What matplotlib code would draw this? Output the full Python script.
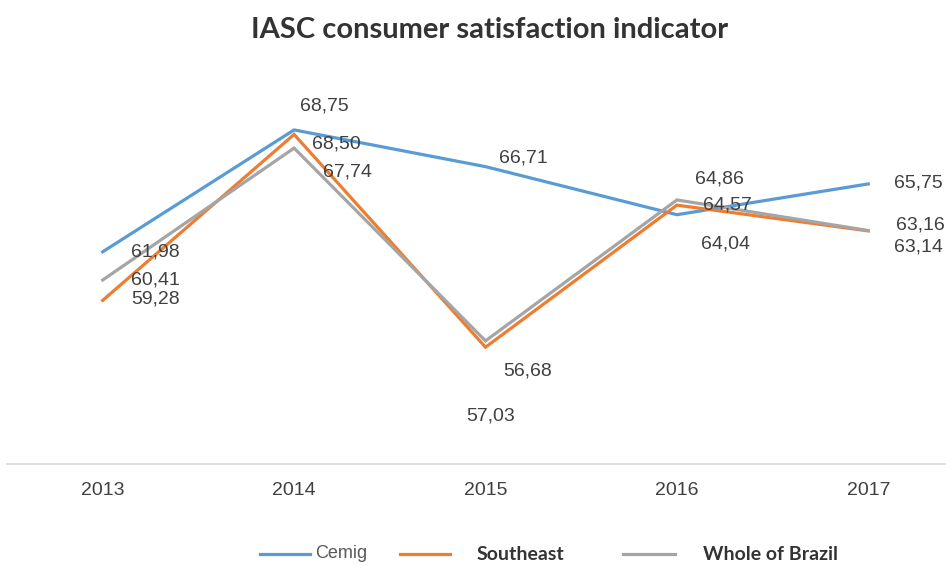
import matplotlib
matplotlib.use("Agg")
import matplotlib.pyplot as plt
from matplotlib.lines import Line2D

years = [2013, 2014, 2015, 2016, 2017]
cemig = [61.98, 68.75, 66.71, 64.04, 65.75]
southeast = [59.28, 68.50, 56.68, 64.57, 63.14]
brazil = [60.41, 67.74, 57.03, 64.86, 63.16]

series_names = ["Cemig", "Southeast", "Whole of Brazil"]
colors = ["#5B9BD5", "#ED7D31", "#A5A5A5"]

# label offsets (pixels) the original uses, per series per year
offsets = {
    "Cemig": [(53, 0), (30, 24), (38, 9), (49, -29), (50, 1)],
    "Southeast": [(53, 1), (42, -10), (42, -24), (51, 0), (50, -16)],
    "Whole of Brazil": [(53, 0), (53, -24), (5, -75), (43, 21), (52, 6)],
}

fig = plt.figure(figsize=(9.46, 5.65), dpi=100)
ax = fig.add_axes([7 / 946, 101 / 565, 957 / 946, 369 / 565])

for name, vals, c in zip(series_names, [cemig, southeast, brazil], colors):
    ax.plot(years, vals, color=c, lw=2.3, solid_joinstyle="miter", zorder=3)

for name, vals in zip(series_names, [cemig, southeast, brazil]):
    for x, v, (dx, dy) in zip(years, vals, offsets[name]):
        ax.annotate(f"{v:.2f}".replace(".", ","), (x, v),
                    xytext=(dx * 0.72, dy * 0.72), textcoords="offset points",
                    ha="center", va="center", fontsize=14,
                    family="Liberation Sans", color="#404040", zorder=4)

ax.set_xlim(2012.5, 2017.5)
ax.set_ylim(50.19, 50.19 + 369 / 18)
ax.set_xticks(years)
ax.set_xticklabels([str(y) for y in years], family="Liberation Sans",
                   fontsize=14, color="#404040")
ax.set_yticks([])
ax.tick_params(axis="x", length=0, pad=13)
for s in ["top", "left", "right"]:
    ax.spines[s].set_visible(False)
ax.spines["bottom"].set_color("#D9D9D9")
ax.spines["bottom"].set_linewidth(1.2)

fig.text(490 / 946, 1 - 30 / 565, "IASC consumer satisfaction indicator",
         ha="center", va="center", fontsize=21, fontweight="bold",
         family="Lato", color="#333333")

# legend, drawn by hand to keep the uneven spacing of the original
ly = 1 - 554 / 565
leg = [(260, 310, 315, "Cemig", "Liberation Sans", "normal", "#595959", 13),
       (400, 450, 477, "Southeast", "Lato", "bold", "#333333", 14),
       (623, 675, 703, "Whole of Brazil", "Lato", "bold", "#333333", 14)]
for (x0, x1, tx, label, fam, fw, tc, fs), c in zip(leg, colors):
    fig.add_artist(Line2D([x0 / 946, x1 / 946], [ly, ly], color=c, lw=2.3,
                          transform=fig.transFigure))
    fig.text(tx / 946, ly, label, ha="left", va="center", fontsize=fs,
             family=fam, fontweight=fw, color=tc)

fig.savefig("out.png", dpi=100)
